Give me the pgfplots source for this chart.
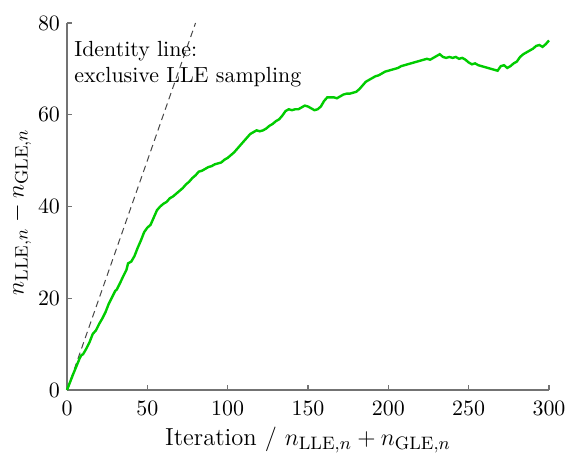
\documentclass[border=0pt]{standalone}
\usepackage{pgfplots}
\pgfplotsset{compat=1.18}
\definecolor{linegreen}{RGB}{0,204,0}
\definecolor{axgray}{RGB}{115,115,115}
\begin{document}
\begin{tikzpicture}
\useasboundingbox (-33.5pt,-31pt) rectangle (249.5pt,195pt);
\begin{axis}[
  at={(0,0)}, anchor=south west,
  scale only axis,
  width=241pt, height=183.5pt,
  xmin=0, xmax=300, ymin=0, ymax=80,
  axis lines*=left,
  axis line style={axgray, line width=0.6pt},
  tick style={axgray, line width=0.6pt},
  tick align=inside,
  major tick length=2.6pt,
  xtick={0,50,100,150,200,250,300},
  ytick={0,20,40,60,80},
  tick label style={font=\fontsize{10.95}{13}\selectfont},
  xticklabel style={yshift=-2.2pt},
  xlabel={Iteration / $n_{\mathrm{LLE},n} + n_{\mathrm{GLE},n}$},
  ylabel={$n_{\mathrm{LLE},n} - n_{\mathrm{GLE},n}$},
  xlabel style={at={(axis description cs:0.5,-0.1499)}, anchor=base, font=\fontsize{12.3}{15}\selectfont},
  ylabel style={at={(axis description cs:-0.0902,0.485)}, anchor=base, rotate=0, font=\fontsize{12.3}{15}\selectfont},
  clip=false,
]
\addplot[black!72, dash pattern=on 3.3pt off 2.2pt, line width=0.5pt, forget plot] coordinates {(0,0) (80,80)};
\addplot[linegreen, line width=1.2pt] table {
x y
0 0
2 1.8
4 3.6
6 5.3
8 7.0
9 7.6
10 7.8
12 9.0
14 10.4
16 12.2
17 12.6
18 13.0
20 14.4
22 15.6
24 17.0
26 18.8
28 20.2
30 21.6
31 21.9
33 23.3
35 24.8
37 26.2
38 27.6
40 28.0
42 29.2
44 31.0
46 32.6
48 34.4
50 35.4
52 36.0
54 37.6
56 39.2
58 40.0
60 40.6
62 41.0
64 41.8
66 42.2
68 42.8
70 43.4
72 44.0
74 44.8
76 45.4
78 46.2
80 46.8
82 47.6
84 47.8
86 48.2
88 48.6
90 48.8
92 49.2
94 49.4
96 49.6
98 50.2
100 50.6
102 51.2
104 51.8
106 52.6
108 53.4
110 54.2
112 55.0
114 55.8
116 56.2
118 56.6
120 56.4
122 56.6
124 57.0
126 57.6
128 58.0
130 58.6
132 59.0
134 59.8
136 60.8
138 61.2
140 61.0
142 61.2
144 61.2
146 61.6
148 62.0
150 61.8
152 61.4
154 61.0
156 61.2
158 61.8
160 63.0
162 63.8
164 63.8
166 63.8
168 63.6
170 64.0
172 64.4
174 64.6
176 64.6
178 64.8
180 65.0
182 65.6
184 66.4
186 67.2
188 67.6
190 68.0
192 68.4
194 68.6
196 69.0
198 69.4
200 69.6
202 69.8
204 70.0
206 70.2
208 70.6
210 70.8
212 71.0
214 71.2
216 71.4
218 71.6
220 71.8
222 72.0
224 72.2
226 72.0
228 72.4
230 72.8
232 73.2
234 72.6
236 72.4
238 72.6
240 72.4
242 72.6
244 72.2
246 72.4
248 72.0
250 71.4
252 71.0
254 71.2
256 70.8
258 70.6
260 70.4
262 70.2
264 70.0
266 69.8
268 69.6
270 70.6
272 70.8
274 70.2
276 70.6
278 71.2
280 71.6
282 72.6
284 73.2
286 73.6
288 74.0
290 74.4
292 75.0
294 75.2
296 74.8
298 75.4
300 76.2
};
\node[anchor=north west, inner sep=0pt, align=left, font=\fontsize{10.95}{13.1}\selectfont] at (axis cs:4.36,76.1) {Identity line:\\exclusive LLE sampling};
\end{axis}
\end{tikzpicture}
\end{document}
